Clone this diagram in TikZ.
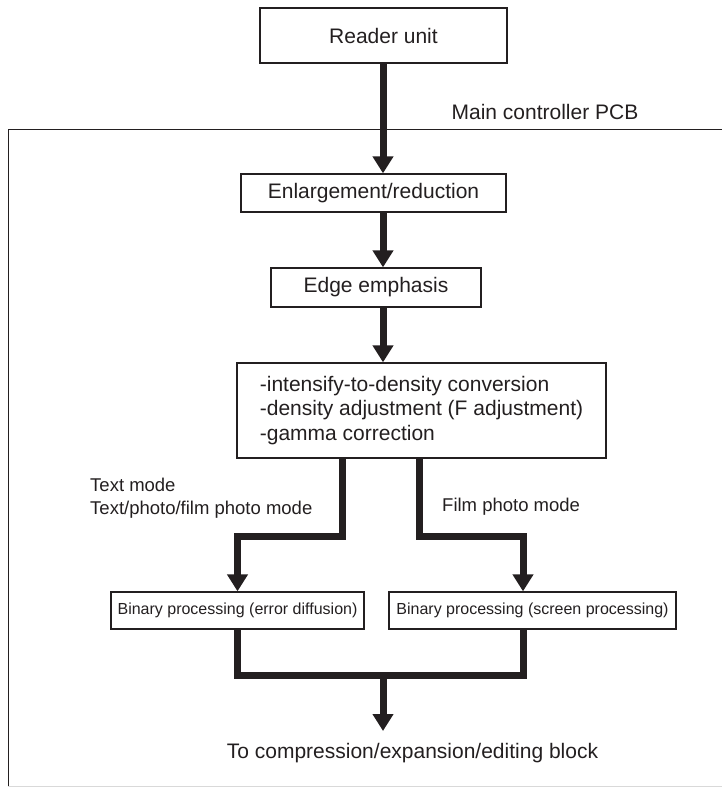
\documentclass[tikz,border=0pt]{standalone}
\usepackage{fontspec}
\setmainfont{Liberation Sans}
\usepackage{tikz}
\usetikzlibrary{arrows.meta, positioning, calc}
\definecolor{ink}{RGB}{35,31,32}

\begin{document}
\begin{tikzpicture}[x=1pt, y=-1pt,
    box/.style={draw=ink, text=ink, line width=1.3pt, inner sep=0pt, font=\fontsize{21}{24.5}\selectfont},
    smallbox/.style={box, font=\fontsize{16}{19}\selectfont},
    flow/.style={draw=ink, line width=7pt, line join=miter, -{Triangle[width=20pt,length=17pt]}},
    bus/.style={draw=ink, line width=7pt, line join=miter},
    lbl/.style={inner sep=0pt, text=ink, font=\fontsize{21}{23}\selectfont},
    modelbl/.style={lbl, font=\fontsize{18.5}{23}\selectfont}]

    \useasboundingbox (0,0) rectangle (722,787);

    % main controller PCB frame
    \draw[ink, line width=1pt] (722,129) -- (8,129) -- (8,787);
    \draw[black!15, line width=1pt] (8,786) -- (722,786);
    \node[lbl, anchor=base] (pcb) at (545,119) {Main controller PCB};

    \node[box, minimum width=247pt, minimum height=55pt] (reader) at (383.5,35.5) {Reader unit};
    \node[box, minimum width=265pt, minimum height=38pt] (enl) at (373.5,193) {Enlargement/reduction};
    \node[box, minimum width=210pt, minimum height=39pt] (edge) at (376,287.5) {Edge emphasis};
    \node[box, minimum width=369pt, minimum height=95pt, align=left] (conv) at (421.5,410.5)
        {-intensify-to-density conversion\\-density adjustment (F adjustment)\\-gamma correction};
    \node[smallbox, minimum width=253pt, minimum height=37pt] (binL) at (237.5,610.5) {Binary processing (error diffusion)};
    \node[smallbox, minimum width=287pt, minimum height=37pt] (binR) at (532.5,610.5) {Binary processing (screen processing)};

    \node[modelbl, anchor=north west, align=left] (modeL) at (90,478) {Text mode\\Text/photo/film photo mode};
    \node[modelbl, anchor=base west] (modeR) at (442,511) {Film photo mode};
    \node[lbl, anchor=base] (dest) at (412.5,758) {To compression/expansion/editing block};

    \coordinate (mx) at (383,0);
    \coordinate (splitL) at (342,536);
    \coordinate (splitR) at (419,536);
    \coordinate (merge) at (383,675);
    \coordinate (outtip) at (383,731);

    \draw[flow] (reader.south -| mx) -- (enl.north -| mx);
    \draw[flow] (enl.south -| mx) -- (edge.north -| mx);
    \draw[flow] (edge.south -| mx) -- (conv.north -| mx);

    % mode branches
    \draw[flow] (conv.south -| splitL) -- (splitL) -| (binL.north);
    \draw[flow] (conv.south -| splitR) -- (splitR) -| ([xshift=-9.5pt]binR.north);

    \draw[bus] (binL.south) |- (merge) -| ([xshift=-9.5pt]binR.south);
    \draw[flow] (merge) -- (outtip);

\end{tikzpicture}
\end{document}
